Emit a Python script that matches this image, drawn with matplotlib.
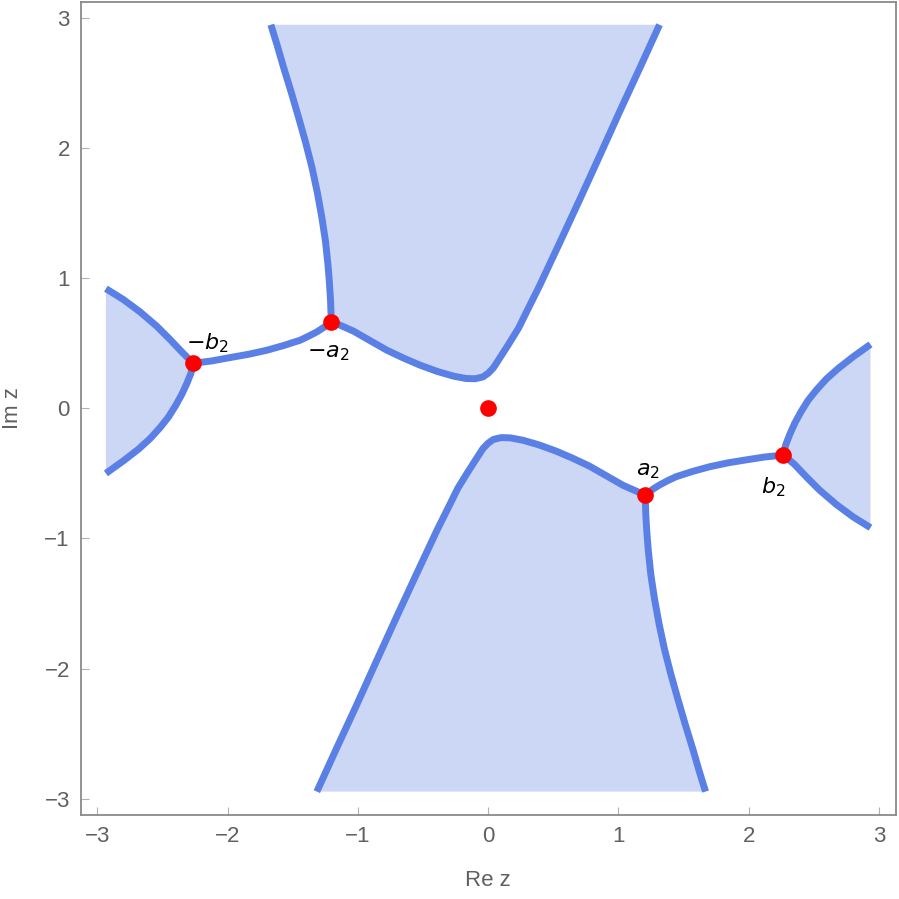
import matplotlib
matplotlib.use('Agg')
from matplotlib import pyplot as plt

plt.rcParams['font.family'] = ['Liberation Sans', 'DejaVu Sans']
plt.rcParams['mathtext.fontset'] = 'dejavusans'

# boundary curves (x = Re z, y = Im z)
upper_left_x = [-1.668, -1.619, -1.571, -1.512, -1.456, -1.402, -1.353, -1.312, -1.277,
                -1.248, -1.228, -1.218, -1.210, -1.205, -1.203]
upper_left_y = [2.945, 2.786, 2.620, 2.428, 2.236, 2.044, 1.852, 1.660, 1.468,
                1.277, 1.085, 0.957, 0.829, 0.700, 0.665]

upper_right_x = [-1.203, -1.12, -1.034, -0.905, -0.777, -0.65, -0.522, -0.39, -0.266, -0.17,
                 -0.1, -0.04, 0.002, 0.04, 0.079, 0.156, 0.233, 0.297, 0.394, 0.553,
                 0.706, 0.854, 1.013, 1.167, 1.315]
upper_right_y = [0.665, 0.63, 0.592, 0.518, 0.445, 0.385, 0.33, 0.282, 0.246, 0.228,
                 0.226, 0.24, 0.27, 0.31, 0.37, 0.49, 0.615, 0.745, 0.94, 1.28,
                 1.61, 1.935, 2.287, 2.62, 2.945]

lower_right_x = [1.205, 1.210, 1.218, 1.228, 1.248, 1.277, 1.312, 1.353, 1.402,
                 1.456, 1.512, 1.571, 1.619, 1.668]
lower_right_y = [-0.668, -0.829, -0.957, -1.085, -1.277, -1.468, -1.660, -1.852, -2.044,
                 -2.236, -2.428, -2.620, -2.786, -2.945]

lower_left_x = [1.205, 1.12, 1.034, 0.905, 0.777, 0.65, 0.522, 0.39, 0.266, 0.17,
                0.1, 0.04, -0.002, -0.04, -0.079, -0.156, -0.233, -0.297, -0.394, -0.553,
                -0.706, -0.854, -1.013, -1.167, -1.315]
lower_left_y = [-0.668, -0.63, -0.592, -0.518, -0.445, -0.385, -0.33, -0.282, -0.246, -0.228,
                -0.226, -0.24, -0.27, -0.31, -0.37, -0.49, -0.615, -0.745, -0.94, -1.28,
                -1.61, -1.935, -2.287, -2.62, -2.945]

left_lobe_x = [-2.934, -2.799, -2.671, -2.543, -2.441, -2.351, -2.287, -2.262, -2.282,
               -2.313, -2.351, -2.397, -2.453, -2.517, -2.594, -2.684, -2.799, -2.934]
left_lobe_y = [0.918, 0.834, 0.739, 0.629, 0.527, 0.432, 0.368, 0.345, 0.266,
               0.189, 0.107, 0.023, -0.067, -0.148, -0.233, -0.315, -0.404, -0.501]

right_lobe_x = [2.934, 2.799, 2.671, 2.543, 2.441, 2.351, 2.289, 2.264, 2.284,
                2.315, 2.353, 2.399, 2.455, 2.519, 2.596, 2.686, 2.801, 2.934]
right_lobe_y = [-0.918, -0.834, -0.739, -0.629, -0.527, -0.432, -0.380, -0.361, -0.280,
                -0.200, -0.115, -0.030, 0.060, 0.140, 0.225, 0.305, 0.395, 0.490]

link_left_x = [-2.262, -2.121, -1.980, -1.839, -1.699, -1.571, -1.443, -1.379, -1.315, -1.264, -1.203]
link_left_y = [0.345, 0.363, 0.389, 0.414, 0.445, 0.481, 0.522, 0.553, 0.586, 0.619, 0.665]

link_right_x = [2.264, 2.121, 1.980, 1.839, 1.699, 1.571, 1.443, 1.379, 1.315, 1.264, 1.205]
link_right_y = [-0.361, -0.375, -0.397, -0.420, -0.450, -0.485, -0.526, -0.556, -0.590, -0.622, -0.668]

# saddle points and origin
point_x = [0.0, 1.205, -1.203, 2.264, -2.262]
point_y = [0.0, -0.668, 0.665, -0.361, 0.345]
point_labels = ['', '$a_2$', '$-a_2$', '$b_2$', '$-b_2$']
label_x = [0.0, 1.228, -1.228, 2.187, -2.157]
label_y = [0.0, -0.476, 0.43, -0.606, 0.499]

line_color = '#5b80e5'
fill_color = '#cbd7f4'

fig = plt.figure(figsize=(8.99, 8.99), dpi=100)
ax = fig.add_axes([0.0901, 0.0934, 0.9066, 0.9044])

# shaded regions
ax.fill(upper_left_x + upper_right_x[1:], upper_left_y + upper_right_y[1:], color=fill_color, lw=0)
ax.fill(lower_left_x[::-1] + lower_right_x[1:], lower_left_y[::-1] + lower_right_y[1:], color=fill_color, lw=0)
ax.fill(left_lobe_x, left_lobe_y, color=fill_color, lw=0)
ax.fill(right_lobe_x, right_lobe_y, color=fill_color, lw=0)

# boundary curves
for xs, ys in [(upper_left_x, upper_left_y), (upper_right_x, upper_right_y),
               (lower_right_x, lower_right_y), (lower_left_x, lower_left_y),
               (left_lobe_x, left_lobe_y), (right_lobe_x, right_lobe_y),
               (link_left_x, link_left_y), (link_right_x, link_right_y)]:
    ax.plot(xs, ys, color=line_color, lw=5, solid_capstyle='butt', solid_joinstyle='round')

ax.plot(point_x, point_y, 'o', color='red', markersize=12, markeredgewidth=0, zorder=5)
for lx, ly, t in zip(label_x, label_y, point_labels):
    if t:
        ax.text(lx, ly, t, fontsize=16, ha='center', va='center', color='black')

ax.set_xlim(-3.125, 3.13)
ax.set_ylim(-3.125, 3.12)
ax.set_xticks(range(-3, 4))
ax.set_yticks(range(-3, 4))
ax.tick_params(direction='in', length=6, width=0.8, color='#b0b0b0', labelcolor='#606060',
               labelsize=16, pad=8)
for s in ax.spines.values():
    s.set_color('#8a8a8a')
    s.set_linewidth(1.3)

fig.text(0.543, 0.021, 'Re z', fontsize=16, color='#606060', ha='center', va='center')
fig.text(0.014, 0.546, 'Im z', fontsize=16, color='#606060', ha='center', va='center', rotation=90)

plt.savefig('out.png', dpi=100)
